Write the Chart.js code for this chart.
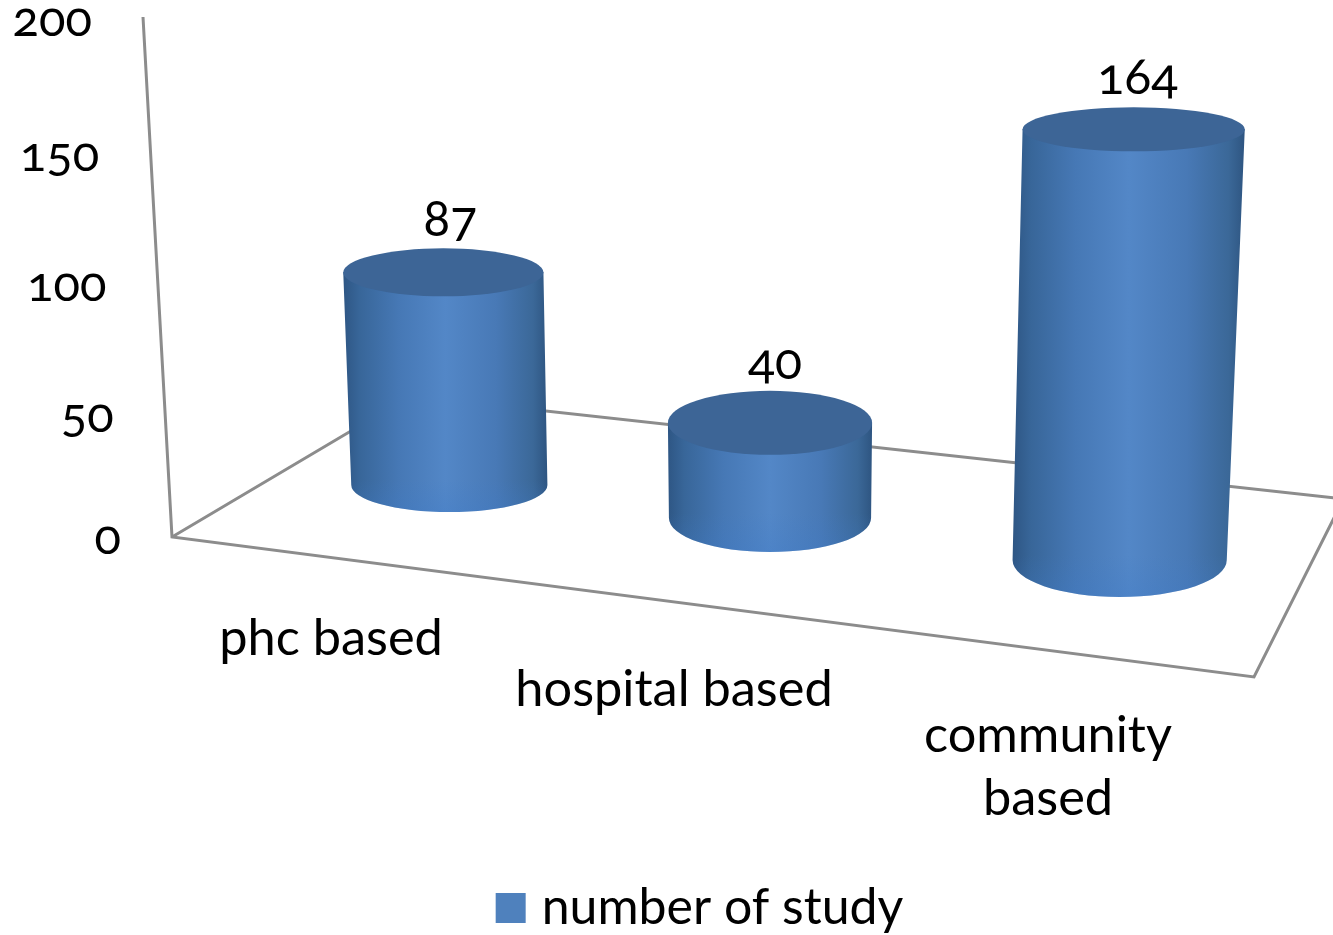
<!DOCTYPE html>
<html>
<head>
<meta charset="utf-8">
<title>number of study</title>
<script src="https://cdn.jsdelivr.net/npm/chart.js@4"></script>
<style>
    html, body { margin: 0; background: #fff; overflow: hidden; }
    #wrap { position: relative; width: 1333px; height: 935px; }
    .num { position: absolute; white-space: nowrap; color: #000; }
</style>
</head>
<body>
<div id="wrap"><canvas id="chart" width="1333" height="935"></canvas></div>
<script>
const categories = ["phc based", "hospital based", ["community", "based"]];
const studyCounts = [87, 40, 164];
const seriesName = "number of study";
const tickStep = 50;
const tickMax = 200;

const BLUE = "#4f81bd";
const FLOOR_LINE = "#8c8c8c";
const FONT = "Lato";

// perspective of each cylinder relative to its bar element
const cylinders = [
    { topDx: 91, baseDx: 97, floorDy: -52, rise: 0.94, topRx: 100, topRy: 24, baseRx: 98, baseRy: 27, labelDx: 7, labelDy: -31, catX: 331, catY: 639 },
    { topDx: 57, baseDx: 57, floorDy: -19, rise: 0.915, topRx: 102, topRy: 32, baseRx: 101, baseRy: 34, labelDx: 5, labelDy: -31, catX: 674, catY: 690 },
    { topDx: 60, baseDx: 46, floorDy: 23, rise: 1.01, topRx: 111, topRy: 22, baseRx: 107, baseRy: 37, labelDx: 4, labelDy: -32, catX: 1048, catY: 736 }
];
// tick labels drift a little off their gridline on the slanted wall (0 up to 200)
const tickDy = [-2, 6, 5, 5, 0];

function sideGradient(ctx, x0, x1) {
    let g = ctx.createLinearGradient(x0, 0, x1, 0);
    g.addColorStop(0, "#2e5684");
    g.addColorStop(0.08, "#386699");
    g.addColorStop(0.27, "#4678b5");
    g.addColorStop(0.5, "#5387c7");
    g.addColorStop(0.75, "#4879b6");
    g.addColorStop(0.93, "#3b6898");
    g.addColorStop(1, "#2e5581");
    return g;
}

const cylinderPlugin = {
    id: "cylinders",
    beforeDatasetsDraw(chart) {
        let ctx = chart.ctx, y = chart.scales.y, a = chart.chartArea;
        let zero = y.getPixelForValue(0), top = y.getPixelForValue(tickMax);
        ctx.save();
        ctx.strokeStyle = FLOOR_LINE;
        ctx.lineWidth = 3;
        // wall edge and floor
        ctx.beginPath();
        ctx.moveTo(a.left - 29, top);
        ctx.lineTo(a.left, zero);
        ctx.lineTo(a.right, zero + 140);
        ctx.lineTo(a.right + 90, zero - 39);
        ctx.stroke();
        ctx.beginPath();
        ctx.moveTo(a.left, zero);
        ctx.lineTo(a.left + 238, zero - 141);
        ctx.lineTo(a.right + 90, zero - 38);
        ctx.stroke();
        ctx.restore();
    },
    beforeDatasetDraw(chart, args) {
        let ctx = chart.ctx;
        let meta = chart.getDatasetMeta(args.index);
        let zero = chart.scales.y.getPixelForValue(0);
        meta.data.forEach((bar, i) => {
            let c = cylinders[i];
            let scaleX = bar.width / 200;
            let xTop = bar.x + c.topDx, xBase = bar.x + c.baseDx;
            let yBase = zero + c.floorDy;
            let yTop = yBase - (zero - bar.y) * c.rise;
            let rTop = c.topRx * scaleX, rBase = c.baseRx * scaleX;
            ctx.save();
            ctx.beginPath();
            ctx.moveTo(xTop - rTop, yTop);
            ctx.lineTo(xBase - rBase, yBase);
            ctx.ellipse(xBase, yBase, rBase, c.baseRy, 0, Math.PI, 0, true);
            ctx.lineTo(xTop + rTop, yTop);
            ctx.closePath();
            ctx.fillStyle = sideGradient(ctx, Math.min(xTop - rTop, xBase - rBase), Math.max(xTop + rTop, xBase + rBase));
            ctx.fill();
            // bluer rim along the foot of the cylinder
            let rim = ctx.createLinearGradient(0, yBase - 5, 0, yBase + c.baseRy);
            rim.addColorStop(0, "rgba(62,122,200,0)");
            rim.addColorStop(1, "rgba(62,122,200,0.3)");
            ctx.fillStyle = rim;
            ctx.fill();
            ctx.beginPath();
            ctx.ellipse(xTop, yTop, rTop, c.topRy, 0, 0, Math.PI * 2);
            ctx.fillStyle = "#3d6596";
            ctx.fill();
            ctx.restore();
        });
        return false;
    },
    afterLayout(chart) {
        // legend goes to the foot of the page, a little left of the plot centre
        chart.legend.left -= 9;
        chart.legend.right -= 9;
        chart.legend.top += 334;
        chart.legend.bottom += 334;
    },
    afterDraw(chart) {
        let ctx = chart.ctx, y = chart.scales.y, a = chart.chartArea;
        let zero = y.getPixelForValue(0), top = y.getPixelForValue(tickMax);
        let meta = chart.getDatasetMeta(0);
        let wrap = document.getElementById("wrap");

        // numbers are HTML so they can use old-style figures
        function num(text, x, yy, size, align) {
            let el = document.createElement("div");
            el.className = "num";
            el.textContent = text;
            el.style.font = `${size}px ${FONT}`;
            el.style.fontFeatureSettings = '"onum"';
            el.style.left = x + "px";
            el.style.top = yy + "px";
            el.style.transform = align == "right" ? "translate(-100%,-50%)" : "translate(-50%,-50%)";
            wrap.appendChild(el);
        }
        y.ticks.forEach((t, i) => {
            let py = y.getPixelForValue(t.value);
            let axisX = a.left - 29 * (zero - py) / (zero - top);
            num(String(t.value), axisX - 51, py + tickDy[i], 49, "right");
        });
        meta.data.forEach((bar, i) => {
            let c = cylinders[i];
            let yBase = zero + c.floorDy;
            let yTop = yBase - (zero - bar.y) * c.rise;
            num(String(studyCounts[i]), bar.x + c.topDx + c.labelDx, yTop - c.topRy + c.labelDy, 50, "center");
        });

        ctx.save();
        ctx.font = `50.5px ${FONT}`;
        ctx.fillStyle = "#000";
        ctx.textAlign = "center";
        ctx.textBaseline = "middle";
        categories.forEach((label, i) => {
            let lines = Array.isArray(label) ? label : [label];
            lines.forEach((line, j) => {
                ctx.fillText(line, cylinders[i].catX, cylinders[i].catY + j * 63);
            });
        });
        ctx.restore();
    }
};

new Chart(document.getElementById("chart"), {
    type: "bar",
    data: {
        labels: categories,
        datasets: [{
            label: seriesName,
            data: studyCounts,
            backgroundColor: BLUE,
            borderColor: BLUE,
            borderWidth: 18,
            barPercentage: 0.555,
            categoryPercentage: 1
        }]
    },
    options: {
        responsive: false,
        animation: false,
        events: [],
        layout: { padding: { left: 172, right: 79, top: 17, bottom: 326 } },
        plugins: {
            tooltip: { enabled: false },
            legend: {
                position: "bottom",
                labels: { boxWidth: 12, boxHeight: 12, padding: 12, color: "#000", font: { family: FONT, size: 50 } }
            }
        },
        scales: {
            x: { display: false },
            y: { display: false, min: 0, max: tickMax, ticks: { stepSize: tickStep } }
        }
    },
    plugins: [cylinderPlugin]
});
</script>
</body>
</html>
